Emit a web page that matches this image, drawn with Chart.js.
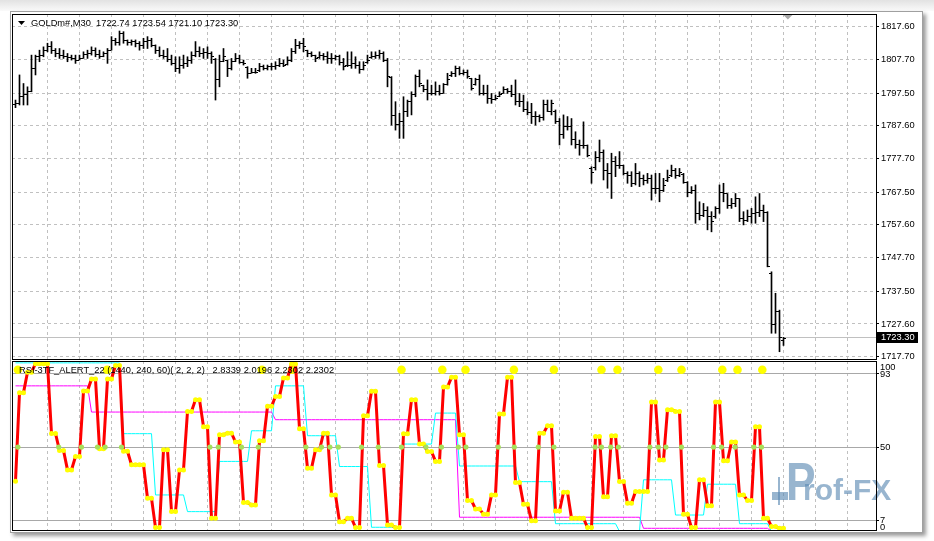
<!DOCTYPE html>
<html><head><meta charset="utf-8">
<script src="https://cdn.jsdelivr.net/npm/chart.js@4.4.1/dist/chart.umd.min.js"></script>
<style>
html,body{margin:0;padding:0;background:#fff;overflow:hidden;}
#wrap{position:relative;width:934px;height:541px;overflow:hidden;background:#fff;}
#topfade{position:absolute;left:0;top:0;width:934px;height:11px;background:linear-gradient(#e2e2e2,#fafafa);}
canvas{position:absolute;left:0;top:0;}
#frame{position:absolute;left:10px;top:11px;width:911px;height:520px;border:1px solid #a0a0a0;box-shadow:3px 3px 4px rgba(0,0,0,0.4);pointer-events:none;z-index:5;}
</style></head><body>
<div id="wrap"><div id="topfade"></div>
<canvas id="price" width="934" height="541"></canvas>
<canvas id="osc" width="934" height="541"></canvas>
<div id="frame"></div></div>
<script>
// ---------------- DATA ----------------
const titleText = 'GOLDm#,M30  1722.74 1723.54 1721.10 1723.30';
const oscLabel = 'RSI-3TF_ALERT_22 (1440, 240, 60)( 2, 2, 2)   2.8339 2.0196 2.2302 2.2302';
const priceTicks = [1817.6,1807.7,1797.5,1787.6,1777.7,1767.5,1757.6,1747.7,1737.5,1727.6,1717.7];
const oscTicks = [100,93,50,7,0];
const oscLevels = [93,50,7];
const bidPrice = 1723.30;

const opens = [
1794.0,1794.5,1796.4,1797.0,1797.9,1805.0,1808.5,1808.8,1810.5,1811.5,
1810.5,1809.5,1809.0,1808.5,1808.2,1808.0,1807.5,1808.0,1809.3,1809.5,
1810.3,1809.3,1808.5,1809.5,1810.5,1813.5,1812.7,1815.5,1813.3,1812.8,
1813.0,1812.5,1812.0,1813.0,1813.5,1812.0,1810.5,1809.0,1808.5,1807.8,
1806.5,1805.0,1806.0,1806.5,1807.5,1809.0,1810.0,1809.5,1809.8,1809.5,
1807.8,1801.7,1807.0,1807.3,1805.0,1807.0,1808.0,1806.8,1805.3,1803.5,
1803.8,1804.2,1805.5,1805.0,1805.5,1805.5,1806.0,1806.5,1806.2,1807.5,
1810.0,1812.0,1812.5,1810.3,1809.5,1808.8,1808.2,1809.0,1808.5,1808.0,
1808.0,1808.5,1806.8,1805.8,1806.0,1806.5,1806.0,1804.7,1806.8,1808.2,
1808.5,1809.0,1809.5,1807.5,1802.3,1790.6,1788.0,1788.8,1792.0,1795.0,
1797.0,1802.5,1799.7,1798.5,1797.5,1797.5,1798.0,1797.5,1800.0,1802.7,
1803.5,1805.0,1803.5,1803.8,1801.8,1800.0,1801.5,1797.5,1797.5,1796.0,
1795.5,1796.5,1797.5,1798.5,1798.0,1797.0,1795.0,1795.0,1792.5,1791.5,
1790.5,1790.5,1790.0,1794.0,1792.0,1792.0,1788.8,1785.0,1787.5,1787.5,
1783.5,1782.0,1781.5,1781.5,1774.8,1775.0,1778.0,1779.5,1774.2,1773.2,
1776.8,1775.7,1775.5,1773.2,1772.5,1770.0,1773.2,1771.5,1771.0,1771.5,
1768.7,1768.5,1768.0,1771.0,1772.5,1774.0,1772.5,1773.0,1770.5,1767.5,
1768.0,1761.0,1760.5,1762.0,1760.0,1760.0,1762.5,1767.5,1767.0,1763.5,
1764.0,1765.5,1759.5,1759.0,1760.0,1761.0,1761.5,1762.0,1761.5,1743.0,
1727.5,1731.5,1722.74];
const highs = [
1795.4,1803.0,1800.4,1799.4,1809.0,1809.0,1810.5,1811.5,1812.6,1813.1,
1811.0,1811.0,1810.5,1809.5,1809.0,1809.0,1809.0,1810.0,1810.5,1811.5,
1811.2,1810.5,1810.0,1811.0,1814.6,1814.1,1816.3,1816.1,1813.6,1813.6,
1813.6,1813.1,1814.1,1814.6,1814.1,1812.1,1811.5,1810.5,1811.0,1809.0,
1808.5,1808.5,1809.0,1808.5,1810.0,1813.1,1811.5,1811.0,1811.5,1810.0,
1808.0,1809.0,1811.0,1807.5,1808.0,1809.5,1809.0,1807.5,1805.5,1805.0,
1805.0,1806.5,1806.0,1806.0,1806.5,1807.0,1808.0,1807.5,1808.5,1811.0,
1813.8,1813.1,1814.1,1810.5,1810.0,1809.0,1810.0,1809.5,1810.0,1809.5,
1809.0,1809.0,1808.0,1810.0,1810.0,1808.5,1807.0,1807.0,1809.0,1810.0,
1810.0,1810.5,1810.0,1808.0,1802.5,1794.9,1791.4,1796.4,1795.4,1797.9,
1803.0,1804.5,1799.9,1801.5,1799.9,1800.9,1799.9,1800.4,1803.5,1804.0,
1805.7,1805.5,1804.5,1804.5,1802.0,1802.0,1803.0,1799.9,1799.9,1797.4,
1796.9,1797.9,1799.4,1798.9,1799.9,1801.5,1797.4,1796.9,1794.9,1794.4,
1791.9,1790.9,1795.4,1795.4,1795.4,1792.4,1789.8,1790.9,1790.4,1789.8,
1785.8,1783.3,1788.8,1781.8,1775.2,1779.8,1783.3,1780.3,1776.2,1779.3,
1778.3,1779.8,1775.7,1773.7,1773.7,1776.2,1773.7,1772.7,1773.2,1772.7,
1773.2,1773.2,1771.7,1774.2,1775.7,1774.7,1774.7,1773.2,1770.7,1769.2,
1769.7,1764.6,1764.1,1763.1,1761.6,1763.1,1769.7,1770.2,1767.1,1765.6,
1767.1,1765.6,1761.6,1762.1,1762.6,1766.1,1767.1,1763.6,1761.6,1743.4,
1736.9,1731.8,1723.54];
const lows = [
1793.1,1793.9,1793.9,1793.9,1797.9,1803.0,1807.0,1808.5,1810.0,1809.5,
1808.5,1808.0,1808.0,1807.0,1807.5,1806.5,1807.5,1808.0,1808.0,1809.0,
1808.5,1808.0,1808.5,1806.5,1810.5,1812.0,1812.0,1812.6,1812.0,1812.0,
1811.5,1810.5,1811.0,1811.0,1811.5,1809.5,1808.5,1808.0,1807.0,1806.0,
1804.0,1803.5,1805.0,1805.5,1806.5,1808.5,1808.5,1808.0,1808.0,1806.5,
1795.4,1799.4,1807.0,1802.5,1804.5,1807.0,1806.5,1806.0,1802.0,1803.5,
1803.5,1804.0,1804.5,1804.5,1804.5,1804.7,1805.5,1805.5,1806.0,1807.0,
1809.5,1811.0,1810.0,1808.5,1808.5,1807.0,1808.0,1807.5,1806.5,1806.5,
1807.5,1806.0,1804.5,1805.5,1805.0,1805.0,1803.5,1804.5,1806.5,1808.0,
1808.0,1808.0,1807.0,1799.4,1787.8,1786.3,1783.8,1783.8,1790.4,1790.9,
1796.4,1799.4,1797.9,1795.4,1796.9,1796.9,1796.9,1797.4,1799.9,1802.5,
1802.5,1803.0,1803.0,1802.0,1798.4,1799.9,1796.9,1796.9,1794.4,1794.4,
1795.4,1796.4,1797.4,1797.4,1796.4,1793.9,1793.4,1791.9,1790.9,1788.3,
1787.8,1788.8,1789.3,1791.9,1790.9,1788.3,1781.8,1783.8,1786.3,1781.8,
1780.8,1778.7,1780.8,1778.2,1770.2,1774.2,1776.7,1771.2,1768.7,1765.6,
1772.2,1774.7,1772.7,1770.2,1769.2,1769.7,1769.2,1769.7,1770.2,1765.1,
1767.1,1764.6,1767.7,1770.7,1772.2,1771.7,1772.2,1770.2,1766.1,1767.1,
1758.1,1759.1,1760.1,1756.1,1755.5,1759.6,1761.1,1764.6,1762.6,1762.6,
1763.1,1758.6,1757.6,1758.6,1758.1,1758.1,1760.1,1758.6,1744.9,1724.8,
1724.8,1719.2,1721.10];
const closes = [
1794.5,1796.4,1797.0,1797.9,1805.0,1808.5,1808.8,1810.5,1811.5,1810.5,
1809.5,1809.0,1808.5,1808.2,1808.0,1807.5,1808.0,1809.3,1809.5,1810.3,
1809.3,1808.5,1809.5,1810.5,1813.5,1812.7,1815.5,1813.3,1812.8,1813.0,
1812.5,1812.0,1813.0,1813.5,1812.0,1810.5,1809.0,1808.5,1807.8,1806.5,
1805.0,1806.0,1806.5,1807.5,1809.0,1810.0,1809.5,1809.8,1809.5,1808.5,
1801.7,1807.0,1808.5,1805.0,1807.0,1808.0,1806.8,1806.5,1803.5,1803.8,
1803.8,1805.5,1805.0,1805.5,1805.5,1806.0,1806.5,1806.0,1807.5,1810.0,
1812.0,1812.5,1811.5,1809.5,1809.0,1808.0,1809.0,1808.5,1808.0,1808.0,
1808.5,1806.8,1805.5,1806.0,1806.5,1806.0,1804.5,1806.0,1807.5,1808.5,
1809.0,1809.5,1807.5,1802.5,1790.6,1788.0,1788.8,1792.0,1795.0,1797.0,
1802.5,1800.5,1798.5,1797.5,1797.5,1798.0,1797.5,1800.0,1801.5,1803.5,
1805.0,1803.5,1803.8,1802.5,1799.0,1801.5,1797.5,1797.5,1796.0,1795.5,
1796.0,1797.0,1798.5,1798.0,1797.0,1795.0,1795.0,1792.5,1791.5,1790.5,
1790.5,1790.0,1794.0,1792.0,1794.5,1788.8,1785.0,1787.5,1787.5,1783.5,
1782.0,1781.5,1781.5,1778.5,1773.5,1778.0,1779.5,1774.2,1773.2,1776.8,
1775.7,1775.7,1773.2,1772.5,1770.0,1773.2,1771.5,1771.0,1771.5,1768.7,
1768.5,1768.0,1769.5,1772.0,1774.0,1772.5,1773.5,1770.5,1767.5,1768.0,
1761.0,1760.5,1762.0,1760.0,1758.5,1762.5,1767.5,1767.0,1763.5,1764.0,
1765.5,1759.5,1759.0,1760.0,1761.0,1761.5,1762.0,1761.5,1745.0,1727.5,
1731.5,1723.5,1723.30];

// RSI of H1 (red), H4 (cyan), D1 (magenta) projected on M30 bars
const rsiH1 = [30,
82,82, 94,94, 99,99, 99,99, 58,58, 48,48, 36.6,36.6, 44.5,44.5, 83,83, 90,90,
49,49, 90,90, 98,98, 47.5,47.5, 39.6,39.6, 39.6,39.6, 20,20, 2.7,2.7, 48.4,48.4, 12.1,12.1,
36.6,36.6, 71,71, 77.9,77.9, 62,62, 8.2,8.2, 57.3,57.3, 58.2,58.2, 53,53, 17.4,17.4, 16,16,
53.7,53.7, 74,74, 79.8,79.8, 90.6,90.6, 98.9,98.9, 60.8,60.8, 37.6,37.6, 48.4,48.4, 58.2,58.2, 21.9,21.9,
6.2,6.2, 8.2,8.2, 2.7,2.7, 68.5,68.5, 82.8,82.8, 39.2,39.2, 4.3,4.3, 2.7,2.7, 57.9,57.9, 77.9,77.9,
51.8,51.8, 47.4,47.4, 41.6,41.6, 85.3,85.3, 91,91, 57.3,57.3, 18.6,18.6, 13.7,13.7, 10.5,10.5, 21.9,21.9,
69.4,69.4, 91,91, 29.2,29.2, 16.4,16.4, 6.8,6.8, 58.2,58.2, 62.6,62.6, 12.5,12.5, 23.5,23.5, 8.2,8.2,
8.2,8.2, 2.7,2.7, 56.3,56.3, 20.9,20.9, 56.7,56.7, 29.8,29.8, 17,17, 23.9,23.9, 23.9,23.9, 76.5,76.5,
42.5,42.5, 72,72, 71,71, 10.5,10.5, 2.7,2.7, 30.8,30.8, 15.6,15.6, 76.5,76.5, 42,42, 53,53,
21.9,21.9, 18.6,18.6, 62,62, 8.2,8.2, 3.3,3.3, 2.3,2.3];
const rsiH4 = [
99.5,99.5,99.5,99.5,99.5,99.5,99.5,99.5,99.5,99.5,
99.5,99.5,99.5,99.5,99.5,99.5,99.5,99.5,99.5,99.5,
99.5,99.5,99.5,99.5,99.5,99.5,99.5,
57.9,57.9,57.9,57.9,57.9,57.9,57.9,57.9,
21.9,21.9,21.9,21.9,21.9,21.9,21.9,21.9,
12.1,12.1,12.1,12.1,12.1,12.1,12.1,12.1,
41.6,41.6,41.6,41.6,41.6,41.6,41.6,41.6,
59.6,59.6,59.6,59.6,59.6,59.6,
86,86,86,86,86,86,86,86,
56.7,56.7,56.7,56.7,56.7,56.7,56.7,56.7,
38.6,38.6,38.6,38.6,38.6,38.6,38.6,38.6,
2.9,2.9,2.9,2.9,2.9,2.9,2.9,2.9,
51.8,51.8,51.8,51.8,51.8,51.8,51.8,51.8,
70,70,70,70,70,70,
38.9,38.9,38.9,38.9,38.9,38.9,38.9,38.9,38.9,38.9,38.9,38.9,38.9,38.9,38.9,
29.7,29.7,29.7,29.7,29.7,29.7,29.7,29.7,29.7,
5,5,5,5,5,5,5,5,5,5,5,5,5,5,5,5,
0.5,0.5,0.5,0.5,0.5,0.5,
30.8,30.8,30.8,30.8,30.8,30.8,30.8,30.8,
10.1,10.1,10.1,10.1,10.1,10.1,10.1,10.1,
28.2,28.2,28.2,28.2,28.2,28.2,28.2,28.2,
5,5,5,5,5,5,5,5,
0.5,0.5,0.5,0.5];
const rsiD1 = [
86,86,86,86,86,86,86,86,86,86,86,86,86,86,86,86,86,86,86,
70.6,70.6,70.6,70.6,70.6,70.6,70.6,70.6,70.6,70.6,70.6,70.6,70.6,70.6,70.6,70.6,
70.6,70.6,70.6,70.6,70.6,70.6,70.6,70.6,70.6,70.6,70.6,70.6,70.6,70.6,70.6,70.6,
70.6,70.6,70.6,70.6,70.6,70.6,70.6,70.6,70.6,70.6,70.6,70.6,70.6,70.6,
66.1,66.1,66.1,66.1,66.1,66.1,66.1,66.1,66.1,66.1,66.1,66.1,66.1,66.1,66.1,66.1,
66.1,66.1,66.1,66.1,66.1,66.1,66.1,66.1,66.1,66.1,66.1,66.1,66.1,66.1,66.1,66.1,
66.1,66.1,66.1,66.1,66.1,66.1,66.1,66.1,66.1,66.1,66.1,66.1,66.1,66.1,
8.8,8.8,8.8,8.8,8.8,8.8,8.8,8.8,8.8,8.8,8.8,8.8,8.8,8.8,8.8,8.8,
8.8,8.8,8.8,8.8,8.8,8.8,8.8,8.8,8.8,8.8,8.8,8.8,8.8,8.8,8.8,8.8,
8.8,8.8,8.8,8.8,8.8,8.8,8.8,8.8,8.8,8.8,8.8,8.8,8.8,8.8,
2.3,2.3,2.3,2.3,2.3,2.3,2.3,2.3,2.3,2.3,2.3,2.3,2.3,2.3,2.3,2.3,
2.3,2.3,2.3,2.3,2.3,2.3,2.3,2.3,2.3,2.3,2.3,2.3,2.3,2.3,2.3,2.3,
0.5,0.5,0.5,0.5];
// bar positions (fractional bar index) of the marks
const crossMarks = [0.6,10.8,16.5,20.5,22.4,26.5,48.6,50.7,56.5,60.7,72.6,76.5,78.6,80.7,86.5,90.7,96.5,102.6,106.5,110.7,112.6,120.7,124.7,130.7,134.6,144.9,146.5,148.8,150.7,158.6,160.7,162.6,166.5,174.5,176.5,179.9,184.6,186.5];
const signalMarks = [0.6,22.9,61.6,69.1,96.5,106.7,112.5,124.6,134.6,146.5,150.5,160.7,166.5,176.7,180.5,186.7];
const signalLevel = 95.5;

// ---------------- CHARTS ----------------
const FONT = "'Liberation Sans', Arial, sans-serif";
const GRID_STEP = 8;
function xAxis(){
  return {type:'linear', min:-0.875, max:215.125, offset:false,
    afterBuildTicks: s => { const t=[]; for (let v=GRID_STEP; v<=208; v+=GRID_STEP) t.push({value:v}); s.ticks=t; },
    afterFit: s => { s.height = 0; },
    ticks:{display:false},
    grid:{display:true, color:'#c0c0c0', lineWidth:1, drawTicks:false, offset:false},
    border:{display:false, dash:[3,3]}};
}
function frameRect(ctx, a){
  ctx.save(); ctx.strokeStyle='#000'; ctx.lineWidth=1;
  ctx.strokeRect(a.left+0.5, a.top+0.5, a.right-a.left, a.bottom-a.top);
  ctx.restore();
}

const pricePlugin = {
  id:'pricePlugin',
  beforeDatasetsDraw(chart){
    const {ctx, chartArea:a, scales:{y}} = chart;
    const by = Math.round(y.getPixelForValue(bidPrice)) - 0.5;
    ctx.save(); ctx.strokeStyle='#c0c0c0'; ctx.lineWidth=1;
    ctx.beginPath(); ctx.moveTo(a.left, by); ctx.lineTo(a.right, by); ctx.stroke(); ctx.restore();
  },
  afterDatasetsDraw(chart){
    const {ctx, scales:{x,y}} = chart;
    ctx.save(); ctx.fillStyle='#000';
    for (let i=0;i<opens.length;i++){
      const px = Math.round(x.getPixelForValue(i) - 0.5);
      const yo = Math.round(y.getPixelForValue(opens[i]) - 0.5);
      const yc = Math.round(y.getPixelForValue(closes[i]) - 0.5);
      ctx.fillRect(px-2, yo, 2, 1);
      ctx.fillRect(px+1, yc, 2, 1);
    }
    ctx.restore();
  },
  afterDraw(chart){
    const {ctx, chartArea:a, scales:{x,y}} = chart;
    frameRect(ctx, a);
    ctx.save();
    ctx.fillStyle='#000';
    ctx.beginPath(); ctx.moveTo(18,21); ctx.lineTo(25,21); ctx.lineTo(21.5,25); ctx.closePath(); ctx.fill();
    ctx.font = '9.3px ' + FONT; ctx.textBaseline='middle'; ctx.textAlign='left';
    ctx.fillText(titleText, 31, 23.5);
    const sx = x.getPixelForValue(opens.length + 0.1);
    ctx.fillStyle='#a8a8a8';
    ctx.beginPath(); ctx.moveTo(sx-4.5, a.top+1); ctx.lineTo(sx+4.5, a.top+1); ctx.lineTo(sx, a.top+5.5); ctx.closePath(); ctx.fill();
    const by = Math.round(y.getPixelForValue(bidPrice));
    ctx.fillStyle='#000'; ctx.fillRect(a.right+1, by-6, 41, 11);
    ctx.fillStyle='#fff'; ctx.fillText(bidPrice.toFixed(2), a.right+5, by-0.5);
    ctx.restore();
  }
};

new Chart(document.getElementById('price'), {
  type:'bar',
  data:{datasets:[{
    data: highs.map((h,i)=>({x:i, y:[lows[i], h]})),
    backgroundColor:'#000', borderWidth:0, barThickness:1
  }]},
  options:{
    responsive:false, animation:false, events:[], devicePixelRatio:1,
    layout:{autoPadding:false, padding:{left:12, top:14, right:12, bottom:182}},
    plugins:{legend:{display:false}, tooltip:{enabled:false}},
    scales:{
      x: xAxis(),
      y: {position:'right', min:1717.0, max:1821.45,
        afterBuildTicks: s => { s.ticks = priceTicks.map(v=>({value:v})); },
        afterFit: s => { s.width = 46; },
        ticks:{color:'#000', font:{family:FONT, size:9.3}, padding:2, autoSkip:false, callback: v => Number(v).toFixed(2)},
        grid:{color:'#c0c0c0', lineWidth:1, drawTicks:true, tickLength:3, tickColor:'#000', tickWidth:1, tickBorderDash:[]},
        border:{display:false, dash:[3,3]}}
    }
  },
  plugins:[pricePlugin]
});

const oscPlugin = {
  id:'oscPlugin',
  beforeDraw(chart){
    const ctx = chart.ctx; ctx.save(); ctx.fillStyle='#fff'; ctx.fillRect(0, 360, 934, 181); ctx.restore();
  },
  beforeDatasetsDraw(chart){
    const ctx = chart.ctx; ctx.save();
    ctx.fillStyle='rgba(88,136,178,0.62)';
    ctx.fillRect(772, 492, 16, 8);
    ctx.fillRect(778, 477, 2, 28);
    ctx.font = 'bold 54px ' + FONT; ctx.textBaseline='alphabetic';
    ctx.save(); ctx.translate(786, 500); ctx.scale(0.82,1); ctx.fillText('P',0,0); ctx.restore();
    ctx.font = 'bold 30px ' + FONT; ctx.fillText('rof-FX', 803, 500);
    ctx.restore();
  },
  afterDraw(chart){
    const {ctx, chartArea:a, scales:{y}} = chart;
    frameRect(ctx, a);
    ctx.save();
    ctx.fillStyle='#000'; ctx.font='9.3px ' + FONT; ctx.textBaseline='middle'; ctx.textAlign='left';
    oscTicks.forEach(v => {
      const py = Math.min(Math.max(y.getPixelForValue(v), a.top+6), a.bottom-3);
      ctx.fillText(String(v), a.right+4, py);
    });
    ctx.fillText(oscLabel, 19, 370);
    ctx.restore();
  }
};

const pts = arr => arr.map((v,i)=>({x:i, y:v}));
new Chart(document.getElementById('osc'), {
  type:'line',
  data:{datasets:[
    {type:'scatter', data: crossMarks.map(b=>({x:b, y:50})), pointRadius:2.6, pointBackgroundColor:'#a6e05a', pointBorderWidth:0, showLine:false, order:0},
    {type:'scatter', data: pts(rsiH1), pointRadius:2.5, pointBackgroundColor:'#ffff00', pointBorderWidth:0, showLine:false, order:1},
    {data: pts(rsiH1), borderColor:'#ff0000', borderWidth:3, pointRadius:0, tension:0, order:2},
    {data: pts(rsiH4), borderColor:'#00ffff', borderWidth:1, pointRadius:0, tension:0, order:3},
    {data: pts(rsiD1), borderColor:'#ff00ff', borderWidth:1, pointRadius:0, tension:0, order:4},
    {type:'scatter', data: signalMarks.map(b=>({x:b, y:signalLevel})), pointRadius:4.3, pointBackgroundColor:'#ffff00', pointBorderWidth:0, showLine:false, order:5}
  ]},
  options:{
    responsive:false, animation:false, events:[], devicePixelRatio:1,
    layout:{autoPadding:false, padding:{left:12, top:361, right:12, bottom:11}},
    plugins:{legend:{display:false}, tooltip:{enabled:false}},
    scales:{
      x: xAxis(),
      y: {position:'right', min:1.3, max:100.6,
        afterBuildTicks: s => { s.ticks = oscLevels.map(v=>({value:v})); },
        afterFit: s => { s.width = 46; },
        ticks:{display:false},
        grid:{color:'#a8a8a8', lineWidth:1, drawTicks:true, tickLength:3, tickColor:'#000', tickBorderDash:[]},
        border:{display:false, dash:[]}}
    }
  },
  plugins:[oscPlugin]
});
</script>
</body></html>
